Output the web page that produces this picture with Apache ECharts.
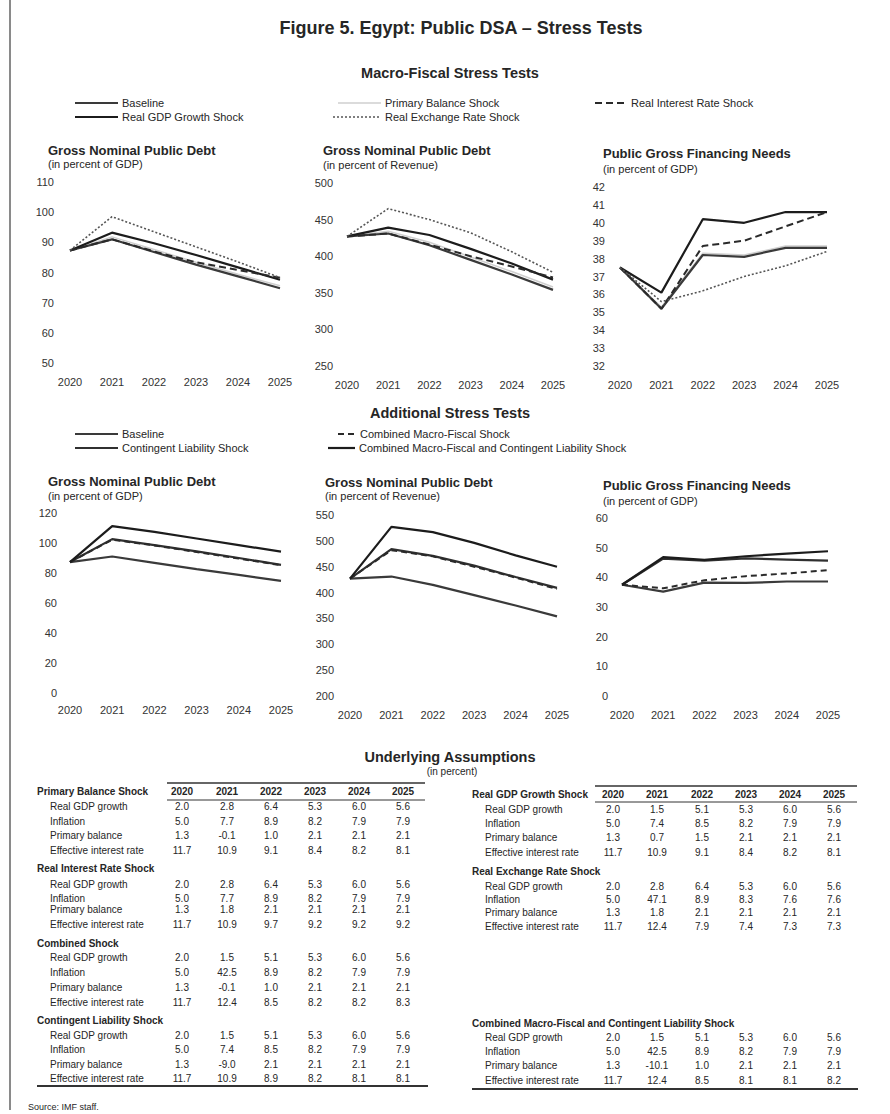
<!DOCTYPE html>
<html>
<head>
<meta charset="utf-8">
<script src="https://cdn.jsdelivr.net/npm/echarts@6/dist/echarts.min.js"></script>
<style>
  html, body { margin: 0; padding: 0; background: #ffffff; }
  #c { width: 890px; height: 1114px; }
</style>
</head>
<body>
<div id="c"></div>
<script>
// ---- Data -------------------------------------------------------------
const years = ['2020', '2021', '2022', '2023', '2024', '2025'];

// Macro-fiscal stress tests: gross nominal public debt (% of GDP)
const debtGdpBaseline       = [87.3, 91.0, 86.8, 82.6, 78.7, 74.8];
const debtGdpPrimaryBalance = [87.3, 91.8, 87.6, 83.4, 79.4, 75.6];
const debtGdpRealGdp        = [87.3, 93.2, 89.7, 85.8, 81.7, 77.6];
const debtGdpRealInterest   = [87.3, 91.0, 87.0, 83.4, 80.8, 78.3];
const debtGdpExchangeRate   = [87.3, 98.5, 93.5, 88.5, 83.5, 78.3];

// Macro-fiscal stress tests: gross nominal public debt (% of revenue)
const debtRevBaseline       = [427, 431, 415, 395, 375, 354];
const debtRevPrimaryBalance = [427, 434, 419, 399, 379, 358];
const debtRevRealGdp        = [427, 439, 429, 410, 390, 368];
const debtRevRealInterest   = [427, 431, 416, 400, 386, 371];
const debtRevExchangeRate   = [427, 465, 450, 432, 406, 378];

// Macro-fiscal stress tests: public gross financing needs (% of GDP)
const gfnBaseline       = [37.5, 35.2, 38.2, 38.1, 38.6, 38.6];
const gfnPrimaryBalance = [37.5, 35.3, 38.3, 38.2, 38.7, 38.7];
const gfnRealGdp        = [37.5, 36.1, 40.2, 40.0, 40.6, 40.6];
const gfnRealInterest   = [37.5, 35.2, 38.7, 39.0, 39.8, 40.6];
const gfnExchangeRate   = [37.5, 35.6, 36.2, 37.0, 37.6, 38.4];

// Additional stress tests
const addDebtGdpContingent = [87.3, 102.6, 98.6, 94.4, 90.0, 85.4];
const addDebtGdpCombined   = [87.3, 102.2, 98.4, 94.0, 89.6, 85.2];
const addDebtGdpCombinedCL = [87.3, 111.3, 107.4, 103.0, 98.6, 94.2];

const addDebtRevContingent = [427, 484, 471, 452, 430, 409];
const addDebtRevCombined   = [427, 482, 470, 450, 429, 407];
const addDebtRevCombinedCL = [427, 527, 517, 496, 472, 450];

const addGfnContingent = [37.5, 46.3, 45.6, 46.4, 46.0, 45.6];
const addGfnCombined   = [37.5, 36.3, 39.0, 40.4, 41.3, 42.4];
const addGfnCombinedCL = [37.5, 46.8, 45.9, 47.1, 48.0, 48.8];

// Underlying assumptions (in percent)
const assumptionRows = ['Real GDP growth', 'Inflation', 'Primary balance', 'Effective interest rate'];
const primaryBalanceShock = [
  [2.0, 2.8, 6.4, 5.3, 6.0, 5.6],
  [5.0, 7.7, 8.9, 8.2, 7.9, 7.9],
  [1.3, -0.1, 1.0, 2.1, 2.1, 2.1],
  [11.7, 10.9, 9.1, 8.4, 8.2, 8.1]
];
const realInterestRateShock = [
  [2.0, 2.8, 6.4, 5.3, 6.0, 5.6],
  [5.0, 7.7, 8.9, 8.2, 7.9, 7.9],
  [1.3, 1.8, 2.1, 2.1, 2.1, 2.1],
  [11.7, 10.9, 9.7, 9.2, 9.2, 9.2]
];
const combinedShock = [
  [2.0, 1.5, 5.1, 5.3, 6.0, 5.6],
  [5.0, 42.5, 8.9, 8.2, 7.9, 7.9],
  [1.3, -0.1, 1.0, 2.1, 2.1, 2.1],
  [11.7, 12.4, 8.5, 8.2, 8.2, 8.3]
];
const contingentLiabilityShock = [
  [2.0, 1.5, 5.1, 5.3, 6.0, 5.6],
  [5.0, 7.4, 8.5, 8.2, 7.9, 7.9],
  [1.3, -9.0, 2.1, 2.1, 2.1, 2.1],
  [11.7, 10.9, 8.9, 8.2, 8.1, 8.1]
];
const realGdpGrowthShock = [
  [2.0, 1.5, 5.1, 5.3, 6.0, 5.6],
  [5.0, 7.4, 8.5, 8.2, 7.9, 7.9],
  [1.3, 0.7, 1.5, 2.1, 2.1, 2.1],
  [11.7, 10.9, 9.1, 8.4, 8.2, 8.1]
];
const realExchangeRateShock = [
  [2.0, 2.8, 6.4, 5.3, 6.0, 5.6],
  [5.0, 47.1, 8.9, 8.3, 7.6, 7.6],
  [1.3, 1.8, 2.1, 2.1, 2.1, 2.1],
  [11.7, 12.4, 7.9, 7.4, 7.3, 7.3]
];
const combinedContingentShock = [
  [2.0, 1.5, 5.1, 5.3, 6.0, 5.6],
  [5.0, 42.5, 8.9, 8.2, 7.9, 7.9],
  [1.3, -10.1, 1.0, 2.1, 2.1, 2.1],
  [11.7, 12.4, 8.5, 8.1, 8.1, 8.2]
];

// ---- Styling ------------------------------------------------------------
const FONT = "'Liberation Sans', Arial, sans-serif";
const INK = '#262626';

const lineStyles = {
  'Baseline':                    { color: '#3a3a3a', width: 2.2, type: 'solid' },
  'Primary Balance Shock':       { color: '#cfcfcf', width: 1.5, type: 'solid' },
  'Real GDP Growth Shock':       { color: '#1c1c1c', width: 2.2, type: 'solid' },
  'Real Interest Rate Shock':    { color: '#2a2a2a', width: 2, type: [7, 4] },
  'Real Exchange Rate Shock':    { color: '#555555', width: 1.6, type: [2, 2] },
  'Contingent Liability Shock':  { color: '#303030', width: 2.2, type: 'solid' },
  'Combined Macro-Fiscal Shock': { color: '#2a2a2a', width: 2, type: [6, 4] },
  'Combined Macro-Fiscal and Contingent Liability Shock': { color: '#1c1c1c', width: 2.2, type: 'solid' }
};

// Panel frames (plot areas) and their value axes
const panels = [
  { grid: { left: 70,  top: 182, width: 210, height: 181 }, y: { min: 50,  max: 110, interval: 10 }, xm: 13, ym: 16 },
  { grid: { left: 347, top: 183, width: 206, height: 183 }, y: { min: 250, max: 500, interval: 50 }, xm: 13, ym: 14 },
  { grid: { left: 620, top: 187, width: 207, height: 179 }, y: { min: 32,  max: 42,  interval: 1 },  xm: 13, ym: 15 },
  { grid: { left: 70,  top: 513, width: 211, height: 180 }, y: { min: 0,   max: 120, interval: 20 }, xm: 11, ym: 13 },
  { grid: { left: 350, top: 515, width: 207, height: 181 }, y: { min: 200, max: 550, interval: 50 }, xm: 13, ym: 16 },
  { grid: { left: 622, top: 518, width: 206, height: 178 }, y: { min: 0,   max: 60,  interval: 10 }, xm: 13, ym: 14 }
];

const panelSeries = [
  [['Primary Balance Shock', debtGdpPrimaryBalance], ['Baseline', debtGdpBaseline], ['Real GDP Growth Shock', debtGdpRealGdp],
   ['Real Interest Rate Shock', debtGdpRealInterest], ['Real Exchange Rate Shock', debtGdpExchangeRate]],
  [['Primary Balance Shock', debtRevPrimaryBalance], ['Baseline', debtRevBaseline], ['Real GDP Growth Shock', debtRevRealGdp],
   ['Real Interest Rate Shock', debtRevRealInterest], ['Real Exchange Rate Shock', debtRevExchangeRate]],
  [['Primary Balance Shock', gfnPrimaryBalance], ['Baseline', gfnBaseline], ['Real GDP Growth Shock', gfnRealGdp],
   ['Real Interest Rate Shock', gfnRealInterest], ['Real Exchange Rate Shock', gfnExchangeRate]],
  [['Baseline', debtGdpBaseline], ['Contingent Liability Shock', addDebtGdpContingent],
   ['Combined Macro-Fiscal Shock', addDebtGdpCombined], ['Combined Macro-Fiscal and Contingent Liability Shock', addDebtGdpCombinedCL]],
  [['Baseline', debtRevBaseline], ['Contingent Liability Shock', addDebtRevContingent],
   ['Combined Macro-Fiscal Shock', addDebtRevCombined], ['Combined Macro-Fiscal and Contingent Liability Shock', addDebtRevCombinedCL]],
  [['Baseline', gfnBaseline], ['Contingent Liability Shock', addGfnContingent],
   ['Combined Macro-Fiscal Shock', addGfnCombined], ['Combined Macro-Fiscal and Contingent Liability Shock', addGfnCombinedCL]]
];

const panelTitles = [
  { t: 'Gross Nominal Public Debt',    s: '(in percent of GDP)',     x: 48,  ty: 150, sy: 164 },
  { t: 'Gross Nominal Public Debt',    s: '(in percent of Revenue)', x: 323, ty: 150, sy: 165 },
  { t: 'Public Gross Financing Needs', s: '(in percent of GDP)',     x: 603, ty: 153, sy: 169 },
  { t: 'Gross Nominal Public Debt',    s: '(in percent of GDP)',     x: 48,  ty: 481, sy: 496 },
  { t: 'Gross Nominal Public Debt',    s: '(in percent of Revenue)', x: 325, ty: 482, sy: 496 },
  { t: 'Public Gross Financing Needs', s: '(in percent of GDP)',     x: 603, ty: 485, sy: 501 }
];

// Key entries: sample line from x1 to x2 at height y, label right after
const keyEntries = [
  { name: 'Baseline',                    x1: 75,  x2: 118, y: 103 },
  { name: 'Real GDP Growth Shock',       x1: 75,  x2: 118, y: 117 },
  { name: 'Primary Balance Shock',       x1: 338, x2: 381, y: 103 },
  { name: 'Real Exchange Rate Shock',    x1: 333, x2: 381, y: 117 },
  { name: 'Real Interest Rate Shock',    x1: 595, x2: 627, y: 103 },
  { name: 'Baseline',                    x1: 75,  x2: 118, y: 434 },
  { name: 'Contingent Liability Shock',  x1: 75,  x2: 118, y: 448 },
  { name: 'Combined Macro-Fiscal Shock', x1: 338, x2: 356, y: 434 },
  { name: 'Combined Macro-Fiscal and Contingent Liability Shock', x1: 328, x2: 355, y: 448 }
];

// ---- Build option -------------------------------------------------------
const grids = [], xAxes = [], yAxes = [], series = [];
panels.forEach((p, i) => {
  grids.push(Object.assign({}, p.grid));
  xAxes.push({
    type: 'category', gridIndex: i, data: years, boundaryGap: false,
    axisLine: { show: false }, axisTick: { show: false }, splitLine: { show: false },
    axisLabel: { margin: p.xm, fontSize: 11, color: '#333', fontFamily: FONT, interval: 0 }
  });
  yAxes.push({
    type: 'value', gridIndex: i, min: p.y.min, max: p.y.max, interval: p.y.interval,
    axisLine: { show: false }, axisTick: { show: false }, splitLine: { show: false },
    axisLabel: { margin: p.ym, fontSize: 11, color: '#333', fontFamily: FONT }
  });
  panelSeries[i].forEach(([name, data]) => {
    const st = lineStyles[name];
    series.push({
      type: 'line', name, data, xAxisIndex: i, yAxisIndex: i,
      symbol: 'none', silent: true, color: st.color,
      lineStyle: { color: st.color, width: st.width, type: st.type }
    });
  });
});

const graphics = [];
function txt(x, y, text, size, opts) {
  opts = opts || {};
  graphics.push({
    type: 'text', silent: true,
    style: {
      x, y, text, fill: opts.color || INK,
      font: (opts.bold ? 'bold ' : '') + size + 'px ' + FONT,
      align: opts.align || 'left', verticalAlign: 'middle',
      textAlign: opts.align || 'left', textVerticalAlign: 'middle'
    }
  });
}
function rule(x1, y1, x2, y2, w, color, dash) {
  const style = { stroke: color || '#333', lineWidth: w || 1 };
  if (dash) style.lineDash = dash;
  graphics.push({ type: 'line', silent: true, shape: { x1, y1, x2, y2 }, style });
}

// Page frame edge
rule(10, 0, 10, 1110, 2, '#8a8a8a');

// Headings
txt(461, 28, 'Figure 5. Egypt: Public DSA \u2013 Stress Tests', 18, { bold: true, align: 'center' });
txt(450, 73, 'Macro-Fiscal Stress Tests', 14.5, { bold: true, align: 'center' });
txt(450, 413, 'Additional Stress Tests', 14.5, { bold: true, align: 'center' });
txt(450, 757, 'Underlying Assumptions', 14.5, { bold: true, align: 'center' });
txt(452, 771, '(in percent)', 10, { align: 'center' });

// Keys
keyEntries.forEach(k => {
  const st = lineStyles[k.name];
  rule(k.x1, k.y, k.x2, k.y, st.width, st.color, Array.isArray(st.type) ? st.type : null);
  txt(k.x2 + 4, k.y, k.name, 11);
});

panelTitles.forEach(p => {
  txt(p.x, p.ty, p.t, 13, { bold: true });
  txt(p.x, p.sy, p.s, 11);
});

// Assumption tables
const leftCols = [182, 227, 271, 315, 359, 403];
const rightCols = [613, 657, 702, 746, 790, 834];
const blocks = [
  { title: 'Primary Balance Shock',      data: primaryBalanceShock,      x: 37,  cols: leftCols,  ty: 791,  rows: [806, 821, 835, 850] },
  { title: 'Real Interest Rate Shock',   data: realInterestRateShock,    x: 37,  cols: leftCols,  ty: 868,  rows: [884, 898, 909, 924] },
  { title: 'Combined Shock',             data: combinedShock,            x: 37,  cols: leftCols,  ty: 943,  rows: [957, 972, 987, 1002] },
  { title: 'Contingent Liability Shock', data: contingentLiabilityShock, x: 37,  cols: leftCols,  ty: 1020, rows: [1035, 1049, 1064, 1078] },
  { title: 'Real GDP Growth Shock',      data: realGdpGrowthShock,       x: 472, cols: rightCols, ty: 794,  rows: [809, 823, 837, 852] },
  { title: 'Real Exchange Rate Shock',   data: realExchangeRateShock,    x: 472, cols: rightCols, ty: 871,  rows: [886, 899, 912, 926] },
  { title: 'Combined Macro-Fiscal and Contingent Liability Shock', data: combinedContingentShock, x: 472, cols: rightCols, ty: 1023, rows: [1037, 1051, 1065, 1080] }
];
blocks.forEach(b => {
  txt(b.x, b.ty, b.title, 10, { bold: true });
  b.data.forEach((vals, r) => {
    txt(b.x + 13, b.rows[r], assumptionRows[r], 10);
    vals.forEach((v, c) => txt(b.cols[c], b.rows[r], v.toFixed(1), 10, { align: 'center' }));
  });
});
// year headers and rules
years.forEach((y, c) => {
  txt(leftCols[c], 791, y, 10, { bold: true, align: 'center' });
  txt(rightCols[c], 794, y, 10, { bold: true, align: 'center' });
});
rule(167, 783, 425, 783, 1.5);
rule(167, 800, 425, 800, 1);
rule(595, 786, 857, 786, 1.5);
rule(595, 802, 857, 802, 1);
rule(37, 1086, 428, 1086, 1.8);
rule(472, 1089, 858, 1089, 1.8);

txt(28, 1107, 'Source: IMF staff.', 9);

const chart = echarts.init(document.getElementById('c'), null, { renderer: 'svg' });
chart.setOption({
  animation: false,
  backgroundColor: '#ffffff',
  textStyle: { fontFamily: FONT },
  grid: grids,
  xAxis: xAxes,
  yAxis: yAxes,
  series: series,
  graphic: { elements: graphics }
});
</script>
</body>
</html>
